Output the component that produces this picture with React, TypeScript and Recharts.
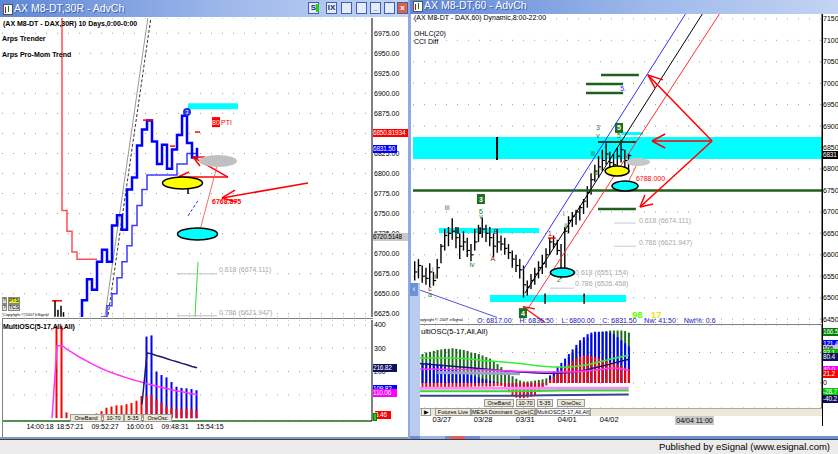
import {
  ComposedChart,
  Line,
  Bar,
  Scatter,
  XAxis,
  YAxis,
  CartesianGrid,
  ReferenceArea,
  ReferenceLine,
  ReferenceDot,
} from "recharts";

const FONT = "'Liberation Sans', Arial, sans-serif";

// ---------- left window: AX M8-DT, 30 range bars ----------
const leftPriceTicks = [6625, 6650, 6675, 6700, 6725, 6750, 6775, 6800, 6825, 6850, 6875, 6900, 6925, 6950, 6975];
const leftTimeTicks = [7.6, 13.6, 20.6, 27.6, 34.6, 41.6];
const leftTimeLabels = ["14:00:18", "18:57:21", "09:52:27", "16:00:01", "09:48:31", "15:54:15"];

// one value per range-bar slot (null = nothing drawn)
const arpsTrender = [
  null, null, null, null, null, null, null, null, null, null, null,
  7100, 6754, 6728, 6702, 6693, 6693, 6693, 6693, 6693,
];
const proMomFast = [
  null, null, null, null, null, null, null, null, null, null, null, null, null, null, null,
  6600, 6642, 6668, 6655, 6690, 6705, 6690, 6735, 6748, 6730, 6780, 6795, 6835, 6855, 6866,
  6840, 6812, 6836, 6806, 6830, 6848, 6872, 6838, 6820, 6832,
];
const proMomSlow = [
  null, null, null, null, null, null, null, null, null, null, null, null, null, null, null, null, null, null, null,
  6600, 6621, 6635, 6650, 6670, 6690, 6710, 6735, 6760, 6780, 6798,
  6798, 6798, 6798, 6798, 6798, 6812, 6812, 6825, 6825, 6825,
];
const leftOscMagenta = [
  null, null, null, null, null, null, null, null, null, null,
  0, 310, 312, 295, 282, 268, 256, 245, 233, 222, 212, 203, 195, 187, 180, 173, 166, 160, 154, 148,
  142, 137, 132, 127, 122, 117, 113, 109, 105, 102,
];
const leftOscNavy = [
  null, null, null, null, null, null, null, null, null, null, null, null, null, null, null, null, null, null, null, null,
  null, null, null, null, null, null, null, null, 60, 280, 275, 268, 262, 255, 248, 242, 235, 229, 222, 216,
];
const leftOscRed = [
  null, null, null, null, null, null, null, null, null, null, null, 395, 395, 25, null, null, null, null, null,
  20, 30, 45, 50, 55, 55, 60, 65, 75, 95, 95, 100, 80, 65, 50, 45, 40, 40, 40, 40, 35,
];
const leftOscBlue = [
  null, null, null, null, null, null, null, null, null, null, null, null, null, null, null, null, null, null, null,
  null, null, null, null, null, null, null, null, null, null, 350, 355, 200, 185, 175, 155, 135, 130, 128, 125, 120,
];

// ---------- right window: AX M8-DT, 60 min ----------
const rightPriceTicks = [6450, 6500, 6550, 6600, 6650, 6700, 6750, 6800, 6850, 6900, 6950, 7000, 7050, 7100, 7150];
const rightDateTicks = [7.2, 18.2, 29.4, 40.6, 51.8];
const rightDateLabels = ["03/27", "03/28", "03/31", "04/01", "04/02"];

const rHigh = [
  6585, 6590, 6575, 6570, 6580, 6560, 6590, 6625, 6660, 6665, 6685, 6665, 6650, 6655, 6640, 6625, 6660, 6670, 6687, 6670,
  6665, 6650, 6660, 6645, 6640, 6625, 6610, 6600, 6590, 6575, 6540, 6555, 6570, 6585, 6600, 6615, 6640, 6645, 6635, 6625,
  6665, 6690, 6700, 6705, 6715, 6730, 6760, 6790, 6810, 6830, 6845, 6860, 6840, 6835, 6850, 6868, 6845, 6836.5,
];
const rLow = [
  6540, 6545, 6535, 6530, 6525, 6528, 6545, 6580, 6610, 6620, 6635, 6615, 6590, 6610, 6595, 6585, 6610, 6630, 6640, 6630,
  6620, 6595, 6605, 6610, 6600, 6590, 6570, 6560, 6545, 6500, 6505, 6520, 6530, 6545, 6555, 6570, 6600, 6615, 6600, 6545,
  6550, 6650, 6665, 6670, 6680, 6695, 6710, 6740, 6770, 6780, 6795, 6810, 6795, 6790, 6800, 6815, 6800, 6800,
];
const rClose = [
  6560, 6575, 6550, 6545, 6560, 6540, 6570, 6620, 6645, 6650, 6655, 6640, 6620, 6630, 6610, 6600, 6630, 6650, 6660, 6650,
  6640, 6620, 6630, 6625, 6615, 6605, 6590, 6575, 6565, 6530, 6525, 6540, 6555, 6570, 6580, 6600, 6630, 6625, 6610, 6560,
  6655, 6680, 6690, 6700, 6710, 6725, 6745, 6775, 6795, 6805, 6820, 6835, 6815, 6810, 6830, 6845, 6820, 6831.5,
];
const rOscGreen = [
  85, 90, 95, 100, 102, 105, 108, 110, 112, 112, 114, 112, 110, 108, 105, 100, 98, 95, 90, 85, 80, 72, 62,
  52, 42, 32, 22, 14, 8, 5, 5, 6, 8, 10, 12, 15,
  20, 30, 40, 55, 70, 85, 100, 115, 130, 140, 150, 158, 162, 165, 168, 170, 172, 172, 172, 172, 170, 165,
];
const rOscBlue = [
  60, 62, 65, 66, 65, 62, 60, 56, 52, 48, 45, 42, 38, 34, 30, 26, 22, 18, 15, 12, 8, 5, 2,
  -5, -12, -20, -28, -34, -40, -42, -40, -36, -30, -22, -12, 0,
  25, 38, 52, 66, 80, 95, 110, 125, 140, 150, 160, 165, 168, 168, 168, 168, 165, 160, 150, 140, 130, 120,
];
const rOscRed = [
  -18, -18, -17, -17, -16, -16, -16, -15, -15, -15, -14, -14, -14, -13, -13, -13, -12, -12, -12, -12, -12, -11, -10,
  -10, -20, -30, -40, -48, -50, -50, -48, -45, -40, -30, -20, -8,
  12, 22, 32, 42, 52, 62, 72, 80, 86, 90, 90, 88, 85, 80, 76, 72, 68, 64, 60, 56, 50, 45,
];
// oscillator lines as [bar, value] points
const rOscLineGreen = [[0, 82], [10, 82], [20, 72], [28, 64], [34, 55], [40, 52], [46, 60], [52, 78], [57, 91]];
const rOscLineNavy = [[0, 65], [10, 55], [20, 44], [28, 36], [36, 32], [42, 35], [48, 50], [53, 65], [57, 78]];
const rOscLineMagenta = [[0, 46], [15, 44], [28, 38], [40, 36], [48, 42], [53, 49], [57, 42]];
const rOscLineLavender = [[6, 34], [16, 33], [28, 30]];
const rOscLinePink = [[0, -17], [57, -17]];
const rOscLineGreenLow = [[0, -27], [28, -27], [40, -25], [57, -25]];
const rOscLineNavyLow = [[0, -42], [28, -42], [35, -40], [57, -38]];

const leftRows = proMomFast.map((_, i) => ({
  i,
  trender: arpsTrender[i] ?? null,
  fast: proMomFast[i] ?? null,
  slow: proMomSlow[i] ?? null,
}));
const leftOscRows = leftOscRed.map((_, i) => ({
  i,
  red: leftOscRed[i] ?? null,
  blue: leftOscBlue[i] ?? null,
  magenta: leftOscMagenta[i] ?? null,
  navy: leftOscNavy[i] ?? null,
}));
const rightRows = rClose.map((c, i) => ({ i, range: [rLow[i], rHigh[i]], close: c }));
const rightOscRows = rOscGreen.map((g, i) => ({ i, g, b: rOscBlue[i], r: rOscRed[i] }));
const pts = (a: number[][]) => a.map(([i, v]) => ({ i, v }));

// ---------- annotation helpers (data coordinates) ----------
const seg = (k: string, a: number[], b: number[], stroke: string, w = 1, dash?: string) => (
  <ReferenceLine
    key={k}
    segment={[{ x: a[0], y: a[1] }, { x: b[0], y: b[1] }]}
    stroke={stroke}
    strokeWidth={w}
    strokeDasharray={dash}
    ifOverflow="hidden"
  />
);
const ell = (k: string, x: number, y: number, rx: number, ry: number, fill: string, stroke = "#000") => (
  <ReferenceDot
    key={k}
    x={x}
    y={y}
    r={rx}
    ifOverflow="visible"
    shape={(p: any) => (
      <ellipse cx={p.cx} cy={p.cy} rx={rx} ry={ry} fill={fill} stroke={stroke} strokeWidth={stroke === "none" ? 0 : 1.5} />
    )}
  />
);
const note = (
  k: string,
  x: number,
  y: number,
  text: string,
  fill: string,
  o: { size?: number; anchor?: string; bold?: boolean; box?: string; boxW?: number } = {}
) => (
  <ReferenceDot
    key={k}
    x={x}
    y={y}
    r={1}
    ifOverflow="visible"
    shape={(p: any) => (
      <g>
        {o.box && (
          <rect x={p.cx - (o.boxW ?? 8) / 2} y={p.cy - 5} width={o.boxW ?? 8} height={10} fill={o.box} />
        )}
        <text
          x={p.cx}
          y={p.cy}
          fill={fill}
          fontSize={o.size ?? 7}
          fontFamily={FONT}
          fontWeight={o.bold ? "bold" : "normal"}
          textAnchor={(o.anchor as any) ?? "middle"}
          dominantBaseline="central"
        >
          {text}
        </text>
      </g>
    )}
  />
);

const abs = (x: number, y: number, w: number, h: number, extra: any = {}) => ({
  position: "absolute" as const,
  left: x,
  top: y,
  width: w,
  height: h,
  ...extra,
});

function TitleBar({ x, y, w, title, buttons }: { x: number; y: number; w: number; title: string; buttons: number[] }) {
  const labels = ["S", "IX", "", "", "_", "", "x"];
  return (
    <div style={abs(x, y, w, 17, { background: "linear-gradient(to right, #5F87D6, #9DB8EA 55%, #C3D4F3)" })}>
      <div style={abs(3, 4, 8, 9, { background: "#fff", border: "1px solid #555" })}>
        <div style={abs(1, 2, 1, 6, { background: "#c00" })} />
        <div style={abs(4, 1, 1, 6, { background: "#080" })} />
      </div>
      <div style={abs(14, 2, 200, 13, { color: "#fff", fontSize: 10.5, fontFamily: FONT, lineHeight: "13px", textShadow: "1px 1px 0 #3b5ea8" })}>
        {title}
      </div>
      {buttons.map((bx, k) => (
        <div
          key={k}
          style={abs(bx, 2, 11, 12, {
            background: k === 6 ? "#D9634E" : "#E4ECFA",
            border: "1px solid #3E62B0",
            boxSizing: "border-box",
            color: k === 6 ? "#fff" : "#1b2c6b",
            fontSize: 8,
            fontWeight: "bold",
            fontFamily: FONT,
            textAlign: "center",
            lineHeight: "10px",
          })}
        >
          {labels[k]}
          {k === 0 && <div style={abs(7, 1, 3, 8, { background: "#22CC22" })} />}
        </div>
      ))}
    </div>
  );
}

function Tag({ x, y, w, text, bg, color = "#fff" }: { x: number; y: number; w: number; text: string; bg: string; color?: string }) {
  return (
    <div
      style={abs(x, y, w, 8, {
        background: bg,
        color,
        fontSize: 6.5,
        letterSpacing: -0.2,
        lineHeight: "8px",
        fontFamily: FONT,
        overflow: "hidden",
        whiteSpace: "nowrap",
      })}
    >
      {text}
    </div>
  );
}

function Btn({ x, y, w, h, text, bg = "#ECE9D8" }: { x: number; y: number; w: number; h: number; text: string; bg?: string }) {
  return (
    <div
      style={abs(x, y, w, h, {
        background: bg,
        border: "1px solid #9a9a9a",
        boxSizing: "border-box",
        fontSize: 5.5,
        lineHeight: `${h - 2}px`,
        textAlign: "center",
        fontFamily: FONT,
        color: "#000",
        whiteSpace: "nowrap",
        overflow: "hidden",
      })}
    >
      {text}
    </div>
  );
}

const tickStyle = { fontSize: 7, fill: "#000", fontFamily: FONT };

export default function App() {
  return (
    <div style={abs(0, 0, 838, 454, { overflow: "hidden", background: "#9FB6E2", fontFamily: FONT })}>
      {/* ================= LEFT WINDOW ================= */}
      <div style={abs(0, 17, 408, 421, { background: "#fff" })} />
      <TitleBar x={0} y={0} w={408} title="AX M8-DT,30R - AdvCh" buttons={[308, 326, 341, 356, 370, 384, 397]} />

      <div style={abs(2, 18, 406, 299)}>
        <ComposedChart width={406} height={299} data={leftRows} margin={{ top: 0, right: 0, bottom: 0, left: 0 }}>
          <CartesianGrid vertical={false} stroke="#9a9a9a" strokeDasharray="1 10" />
          <XAxis dataKey="i" type="number" domain={[0, 74]} hide allowDataOverflow />
          <YAxis
            orientation="right"
            width={36}
            domain={[6621, 6994]}
            ticks={leftPriceTicks}
            allowDataOverflow
            interval={0}
            tickFormatter={(v: number) => v.toFixed(2)}
            tick={tickStyle}
            tickLine={false}
            tickSize={0}
            tickMargin={2}
            axisLine={{ stroke: "#000" }}
          />
          <ReferenceArea x1={37.2} x2={47.2} y1={6880.3} y2={6887.8} fill="#00FFFF" fillOpacity={1} stroke="none" ifOverflow="visible" />
          {ell("lgray", 43.2, 6815.6, 19, 6, "#C0C0C0", "none")}
          {seg("ldash", [20.8, 6605], [30, 7004], "#333", 1, "3 2")}
          {seg("ldash2", [20.2, 6605], [29.4, 7004], "#999", 1)}
          <Line dataKey="trender" type="stepAfter" stroke="#FF5050" strokeWidth={1.5} dot={false} activeDot={false} isAnimationActive={false} />
          <Line dataKey="slow" type="stepAfter" stroke="#3B3BFF" strokeWidth={1.5} dot={false} activeDot={false} isAnimationActive={false} />
          <Line dataKey="fast" type="stepAfter" stroke="#0000FF" strokeWidth={2.5} dot={false} activeDot={false} isAnimationActive={false} />
          {seg("cap1", [28.2, 6866.6], [30.2, 6866.6], "#FF0000", 1.5)}
          {seg("cap2", [38.6, 6851.7], [39.6, 6851.7], "#FF0000", 1.5)}
          {seg("cap3", [33.6, 6834.2], [34.6, 6834.2], "#FF0000", 1.5)}
          {seg("cap4", [10, 6641.2], [12, 6641.2], "#FF0000", 1.5)}
          {seg("bb1", [10.6, 6641.2], [10.6, 6621.3], "#000", 1.5)}
          {seg("bb2", [11.2, 6630], [11.2, 6621.3], "#000", 1.5)}
          {seg("bb3", [11.8, 6635], [11.8, 6621.3], "#000", 1.5)}
          {seg("bb4", [12.3, 6627], [12.3, 6621.3], "#000", 1.5)}
          {ell("lyellow", 36.1, 6788.2, 20, 6, "#FFFF00")}
          {ell("lcyan", 39.1, 6724.6, 20, 6, "#00FFFF")}
          {seg("ltick", [37.2, 6780.7], [37.2, 6774.5], "#000", 1.5)}
          {seg("ra1", [38.2, 6820.5], [45.2, 6795.6], "#FF0000", 1.5)}
          {seg("ra2", [45.2, 6795.6], [35.2, 6795.6], "#FF0000", 1.5)}
          {seg("ra3", [35.2, 6795.6], [37.4, 6801.9], "#FF0000", 1.5)}
          {seg("ra4", [35.2, 6795.6], [38, 6786.9], "#FF0000", 1.5)}
          {seg("ra5", [38.2, 6820.5], [40.6, 6820.5], "#FF0000", 1.5)}
          {seg("ra6", [38.2, 6820.5], [39.6, 6809.3], "#FF0000", 1.5)}
          {seg("rb1", [61.2, 6788.2], [44, 6769.5], "#FF0000", 1.5)}
          {seg("rb2", [44, 6769.5], [46.6, 6779.4], "#FF0000", 1.5)}
          {seg("rb3", [44, 6769.5], [47, 6764.5], "#FF0000", 1.5)}
          {seg("rthin", [43.2, 6814.3], [39.2, 6719.7], "#FF4040", 0.8)}
          {seg("bluex", [37.2, 6747.1], [39.4, 6768.2], "#3030FF", 1, "3 2")}
          {seg("lgreen", [38.6, 6621.3], [39.2, 6689.8], "#33DD33", 1)}
          {seg("lg618", [35, 6674.8], [43, 6674.8], "#BDBDBD", 1)}
          {seg("lg786", [35, 6622.5], [43, 6622.5], "#BDBDBD", 1)}
          {note("n618", 43.4, 6679.8, "0.618 (6674.111)", "#A8A8A8", { anchor: "start" })}
          {note("n786", 43.4, 6626.2, "0.786 (6621.947)", "#A8A8A8", { anchor: "start" })}
          {note("n6768", 42, 6764.5, "6768.875", "#FF0000", { anchor: "start", bold: true })}
          {note("n80", 42.8, 6864.1, "80", "#fff", { box: "#FF0000", boxW: 8 })}
          {note("npti", 43.8, 6864.1, "PTI", "#FF0000", { anchor: "start" })}
          <ReferenceDot
            x={37}
            y={6876.6}
            r={4}
            ifOverflow="visible"
            shape={(p: any) => (
              <g>
                <circle cx={p.cx} cy={p.cy} r={4} fill="#2030E0" />
                <text x={p.cx} y={p.cy} fill="#fff" fontSize={6} textAnchor="middle" dominantBaseline="central" fontFamily={FONT}>
                  3
                </text>
              </g>
            )}
          />
        </ComposedChart>
      </div>
      <div style={abs(3, 19, 200, 9, { fontSize: 7, fontWeight: "bold", lineHeight: "9px" })}>(AX M8-DT - DAX,30R) 10 Days,0:00-0:00</div>
      <div style={abs(2, 34, 200, 9, { fontSize: 7, fontWeight: "bold", lineHeight: "9px" })}>Arps Trender</div>
      <div style={abs(2, 50, 200, 9, { fontSize: 7, fontWeight: "bold", lineHeight: "9px" })}>Arps Pro-Mom Trend</div>
      <Tag x={373} y={129} w={35} text="6850.81934" bg="#FF0000" />
      <Tag x={373} y={145} w={24} text="6831.50" bg="#0000FF" />
      <Tag x={373} y={233} w={35} text="6720.5148" bg="#C8C8C8" color="#000" />
      {/* bottom-left study buttons */}
      <div style={abs(2, 297, 5, 7, { background: "#ECE9D8", border: "1px solid #888", boxSizing: "border-box", fontSize: 5, lineHeight: "5px" })}>?</div>
      <div style={abs(8, 297, 12, 7, { background: "#E8E830", border: "1px solid #888", boxSizing: "border-box", fontSize: 5, lineHeight: "5px" })}>PTS</div>
      <div style={abs(2, 304, 5, 7, { background: "#ECE9D8", border: "1px solid #888", boxSizing: "border-box", fontSize: 5, lineHeight: "5px" })}>?</div>
      <div style={abs(8, 304, 12, 7, { background: "#D8D8D8", border: "1px solid #888", boxSizing: "border-box", fontSize: 5, lineHeight: "5px" })}>TCS</div>
      <div style={abs(3, 312, 60, 5, { fontSize: 4, lineHeight: "5px", color: "#000" })}>Copyright © 2007 eSignal</div>
      <div style={abs(2, 318, 371, 1, { background: "#808080" })} />

      {/* left oscillator pane */}
      <div style={abs(2, 320, 406, 113)}>
        <ComposedChart width={406} height={113} data={leftOscRows} margin={{ top: 0, right: 0, bottom: 0, left: 0 }} barGap={-2}>
          <CartesianGrid vertical={false} stroke="#9a9a9a" strokeDasharray="1 10" />
          <XAxis
            dataKey="i"
            type="number"
            domain={[0, 74]}
            ticks={leftTimeTicks}
            interval={0}
            tickFormatter={(v: number) => leftTimeLabels[leftTimeTicks.indexOf(v)] ?? ""}
            height={12}
            tick={tickStyle}
            tickLine={false}
            tickSize={1}
            tickMargin={2}
            axisLine={{ stroke: "#1E6B1E", strokeWidth: 1.5 }}
            allowDataOverflow
          />
          <YAxis
            orientation="right"
            width={36}
            domain={[-12, 421]}
            ticks={[100, 200, 300, 400]}
            allowDataOverflow
            interval={0}
            tick={tickStyle}
            tickLine={false}
            tickSize={0}
            tickMargin={2}
            axisLine={{ stroke: "#000" }}
          />
          <Bar dataKey="blue" fill="#0000FF" barSize={2} isAnimationActive={false} />
          <Bar dataKey="red" fill="#FF0000" barSize={2} isAnimationActive={false} />
          <Line dataKey="magenta" stroke="#FF33FF" strokeWidth={1.5} dot={false} activeDot={false} isAnimationActive={false} />
          <Line dataKey="navy" stroke="#1A1A6E" strokeWidth={1.5} dot={false} activeDot={false} isAnimationActive={false} />
        </ComposedChart>
      </div>
      <div style={abs(3, 322, 200, 9, { fontSize: 7, fontWeight: "bold", lineHeight: "9px" })}>MultiOSC(5-17,All,All)</div>
      <Btn x={70} y={414} w={32} h={8} text="OneBand" />
      <Btn x={103} y={414} w={21} h={8} text="10-70" />
      <Btn x={124} y={414} w={18} h={8} text="5-35" />
      <Btn x={143} y={414} w={29} h={8} text="OneOsc" />
      <Tag x={373} y={364} w={24} text="216.82" bg="#101060" />
      <Tag x={373} y={385} w={24} text="109.82" bg="#0000FF" />
      <Tag x={373} y={389} w={24} text="110.06" bg="#FF00FF" />
      <Tag x={375} y={411} w={16} text="5.46" bg="#FF0000" />
      <div style={abs(373, 413, 4, 8, { background: "#22CC22", border: "1px solid #080", boxSizing: "border-box" })} />
      <div style={abs(2, 318, 1, 120, { background: "#808080" })} />
      <div style={abs(0, 437, 409, 2, { background: "#7F9DB9" })} />

      {/* ================= RIGHT WINDOW ================= */}
      <div style={abs(410, 0, 428, 440, { background: "#fff" })} />
      <div style={abs(413, 12, 409, 312)}>
        <ComposedChart width={439} height={311} data={rightRows} margin={{ top: 0, right: 0, bottom: 0, left: 0 }}>
          <CartesianGrid vertical={false} stroke="#9a9a9a" strokeDasharray="1 10" />
          <XAxis dataKey="i" type="number" domain={[-0.5, 108.5]} hide allowDataOverflow />
          <YAxis
            orientation="right"
            width={30}
            domain={[6441, 7166]}
            ticks={rightPriceTicks}
            allowDataOverflow
            interval={0}
            tick={tickStyle}
            tickLine={false}
            tickSize={0}
            tickMargin={1}
            axisLine={{ stroke: "#000" }}
          />
          <ReferenceArea y1={6823.3} y2={6874.7} fill="#00FFFF" fillOpacity={1} stroke="none" />
          <ReferenceArea x1={6.4} x2={33.1} y1={6650.7} y2={6662.3} fill="#00FFFF" fillOpacity={1} stroke="none" />
          <ReferenceArea x1={20} x2={56.3} y1={6489.7} y2={6506} fill="#00FFFF" fillOpacity={1} stroke="none" />
          <ReferenceArea x1={55} x2={60.8} y1={6879.3} y2={6886.3} fill="#00FFFF" fillOpacity={1} stroke="none" />
          {seg("vblk", [21.9, 6874.7], [21.9, 6821], "#000", 2)}
          {seg("cb1", [11.5, 6664], [11.5, 6649], "#000", 1.5)}
          {seg("cb2", [17.4, 6664], [17.4, 6649], "#000", 1.5)}
          {seg("cb3", [34.7, 6510], [34.7, 6486], "#000", 1.5)}
          {seg("cb4", [45.1, 6510], [45.1, 6486], "#000", 1.5)}
          <ReferenceLine y={6750} stroke="#1F5F1F" strokeWidth={2.5} />
          {seg("g1", [49.6, 7019.3], [59.7, 7019.3], "#1F5F1F", 2.5)}
          {seg("g2", [45.6, 6998.3], [55.5, 6998.3], "#1F5F1F", 2.5)}
          {seg("g3", [45.6, 6977.3], [55.5, 6977.3], "#1F5F1F", 2.5)}
          {seg("g4", [48.8, 6706.7], [58.9, 6706.7], "#1F5F1F", 2.5)}
          {seg("bk1", [48.8, 6863], [58.9, 6863], "#1F3F1F", 2)}
          {seg("gy1", [53.1, 6674], [58.9, 6674], "#C8C8C8", 1)}
          {seg("gy2", [53.1, 6620], [58.9, 6620], "#C8C8C8", 1)}
          {seg("gy3", [36, 6522.3], [42.4, 6522.3], "#C8C8C8", 1)}
          {seg("bluediag", [1.4, 6517.7], [21.9, 6454], "#5050E0", 1)}
          {seg("chBlue", [28.8, 6564.3], [74.5, 7194.3], "#3030FF", 1)}
          {seg("chBlack", [29.35, 6510.7], [79, 7194.3], "#000", 1)}
          {seg("chRed", [29.35, 6464], [83.6, 7194.3], "#FF3030", 1)}
          {ell("rgray", 59.5, 6816.3, 12, 4, "#C8C8C8", "none")}
          <Bar dataKey="range" fill="#000" barSize={1.4} isAnimationActive={false} />
          <Scatter
            dataKey="close"
            isAnimationActive={false}
            shape={(p: any) => <line x1={p.cx} x2={p.cx + 2.5} y1={p.cy} y2={p.cy} stroke="#000" strokeWidth={1.2} />}
          />
          {ell("ryellow", 53.9, 6795.3, 12, 5, "#FFFF00")}
          {ell("rcyan", 56, 6760.3, 13, 5, "#00FFFF")}
          {ell("rcyan2", 39.3, 6558.5, 12, 4.5, "#00FFFF")}
          {seg("thinr", [59.5, 6816], [56, 6755], "#FF3030", 0.8)}
          {seg("ra1", [79.2, 6865.3], [63.2, 6865.3], "#FF0000", 1.5)}
          {seg("ra1h1", [63.2, 6865.3], [66.7, 6881.6], "#FF0000", 1.5)}
          {seg("ra1h2", [63.2, 6865.3], [66.7, 6849], "#FF0000", 1.5)}
          {seg("ra2", [79.2, 6865.3], [62.1, 7019.3], "#FF0000", 1.5)}
          {seg("ra2h1", [62.1, 7019.3], [66.1, 7007.7], "#FF0000", 1.5)}
          {seg("ra2h2", [62.1, 7019.3], [64, 6989], "#FF0000", 1.5)}
          {seg("ra3", [79.2, 6865.3], [60, 6711.3], "#FF0000", 1.5)}
          {seg("ra3h1", [60, 6711.3], [61.3, 6739.3], "#FF0000", 1.5)}
          {seg("ra3h2", [60, 6711.3], [63.5, 6718.3], "#FF0000", 1.5)}
          {seg("ra4", [28.8, 6479], [34.6, 6443], "#FF0000", 1.2)}
          {seg("ra5", [28.8, 6479], [32, 6474], "#FF0000", 1.2)}
          {seg("cap1", [35.5, 6639], [37.5, 6639], "#FF0000", 1.5)}
          {note("n6788", 58.9, 6779, "6788.000", "#FF0000", { anchor: "start" })}
          {note("r618", 59.7, 6681, "0.618 (6674.111)", "#A8A8A8", { anchor: "start" })}
          {note("r786", 59.7, 6629.7, "0.786 (6621.947)", "#A8A8A8", { anchor: "start" })}
          {note("r618b", 42.7, 6559.7, "0.618 (6551.154)", "#A8A8A8", { anchor: "start" })}
          {note("r786b", 42.7, 6534, "0.786 (6526.458)", "#A8A8A8", { anchor: "start" })}
          {note("w3box", 17.6, 6730, "3", "#fff", { box: "#1E6E1E", boxW: 8, bold: true })}
          {note("w5", 17.6, 6702, "5", "#1E7E1E")}
          {note("wv", 17.6, 6690, "v", "#1E7E1E")}
          {note("wiii", 8.6, 6711.3, "iii", "#1E7E1E")}
          {note("wiv", 15.2, 6578.3, "iv", "#1E7E1E")}
          {note("wi", 4.8, 6566.7, "i", "#1E7E1E")}
          {note("wii", 5.6, 6550, "ii", "#1E7E1E")}
          {note("wc", 4, 6522.3, "c", "#8B1A1A")}
          {note("wa", 4, 6508, "a", "#1E7E1E")}
          {note("wA", 20.8, 6592.3, "A", "#8B1A1A")}
          {note("wB", 21.6, 6655.3, "B", "#6B1A1A")}
          {note("w1", 36, 6650.7, "1", "#CC0000")}
          {note("w2", 38.4, 6543.3, "2", "#1E7E1E")}
          {note("w4box", 28.8, 6464, "4", "#fff", { box: "#1E6E1E", boxW: 8, bold: true })}
          {note("wi2", 39.7, 6697.3, "i", "#1E7E1E")}
          {note("wii2", 40.2, 6669.3, "ii", "#1E7E1E")}
          {note("wiii2", 47.4, 6835, "iii", "#1E7E1E")}
          {note("wiv2", 48.2, 6793, "iv", "#1E7E1E")}
          {note("w3b", 48.8, 6895.7, "3", "#1E7E1E")}
          {note("wvb", 48.8, 6877, "v", "#1E7E1E")}
          {note("w5box", 54.4, 6895.7, "5", "#fff", { box: "#1E6E1E", boxW: 8, bold: true })}
          {note("w5s", 54.4, 6879, "5", "#1E7E1E")}
          {note("w5blue", 55.5, 6986.7, "5.", "#3030FF")}
        </ComposedChart>
      </div>
      <div style={abs(414, 13, 220, 9, { fontSize: 7, lineHeight: "9px" })}>(AX M8-DT - DAX,60) Dynamic,8:00-22:00</div>
      <div style={abs(414, 29, 100, 9, { fontSize: 7, lineHeight: "9px" })}>OHLC(20)</div>
      <div style={abs(414, 37, 100, 9, { fontSize: 7, lineHeight: "9px" })}>CCI Diff</div>
      <Tag x={823} y={151} w={16} text="6831" bg="#000" />
      <div style={abs(632, 309, 14, 11, { fontSize: 9.5, fontWeight: "bold", color: "#66FF00", lineHeight: "11px" })}>98</div>
      <div style={abs(651, 309, 14, 11, { fontSize: 9.5, fontWeight: "bold", color: "#E8E800", lineHeight: "11px" })}>17</div>
      <div style={abs(420, 317, 60, 6, { fontSize: 4, lineHeight: "6px" })}>opyright © 2007 eSignal</div>
      <div style={abs(477, 316, 240, 9, { fontSize: 7, lineHeight: "9px", color: "#2020C0", whiteSpace: "pre" })}>
        {"O: 6817.00    H: 6836.50    L: 6800.00    C: 6831.50    Nw: 41.50    Nwt%: 0.6"}
      </div>
      <div style={abs(413, 324, 409, 1, { background: "#808080" })} />

      {/* right oscillator pane */}
      <div style={abs(413, 325, 409, 100)}>
        <ComposedChart width={439} height={100} data={rightOscRows} margin={{ top: 0, right: 0, bottom: 0, left: 0 }} barGap={-2}>
          <CartesianGrid vertical={false} stroke="#9a9a9a" strokeDasharray="1 10" />
          <XAxis
            dataKey="i"
            type="number"
            domain={[-0.5, 108.5]}
            ticks={rightDateTicks}
            interval={0}
            tickFormatter={(v: number) => rightDateLabels[rightDateTicks.indexOf(v)] ?? ""}
            height={17}
            tick={{ fontSize: 7.5, fill: "#000", fontFamily: FONT }}
            tickLine={false}
            axisLine={false}
            tickSize={1}
            tickMargin={8}
            allowDataOverflow
          />
          <YAxis
            orientation="right"
            width={30}
            domain={[-82, 190]}
            ticks={[0, 100]}
            tickFormatter={(v: number) => (v === 0 ? "0" : "")}
            allowDataOverflow
            interval={0}
            tick={tickStyle}
            tickLine={false}
            tickSize={0}
            tickMargin={1}
            axisLine={{ stroke: "#000" }}
          />
          <Bar dataKey="g" fill="#1E6B1E" barSize={2} isAnimationActive={false} />
          <Bar dataKey="b" fill="#0000FF" barSize={2} isAnimationActive={false} />
          <Bar dataKey="r" fill="#FF0000" barSize={2} isAnimationActive={false} />
          <Line data={pts(rOscLineLavender)} dataKey="v" stroke="#A0A0CC" strokeWidth={3} dot={false} activeDot={false} isAnimationActive={false} />
          <Line data={pts(rOscLineGreen)} dataKey="v" type="monotone" stroke="#33EE33" strokeWidth={1.5} dot={false} activeDot={false} isAnimationActive={false} />
          <Line data={pts(rOscLineNavy)} dataKey="v" type="monotone" stroke="#15156E" strokeWidth={1.5} dot={false} activeDot={false} isAnimationActive={false} />
          <Line data={pts(rOscLineMagenta)} dataKey="v" type="monotone" stroke="#FF33FF" strokeWidth={1.5} dot={false} activeDot={false} isAnimationActive={false} />
          <Line data={pts(rOscLinePink)} dataKey="v" stroke="#FF88FF" strokeWidth={3} dot={false} activeDot={false} isAnimationActive={false} />
          <Line data={pts(rOscLineGreenLow)} dataKey="v" stroke="#33DD33" strokeWidth={2} dot={false} activeDot={false} isAnimationActive={false} />
          <Line data={pts(rOscLineNavyLow)} dataKey="v" stroke="#404090" strokeWidth={2} dot={false} activeDot={false} isAnimationActive={false} />
        </ComposedChart>
      </div>
      <div style={abs(421, 327, 120, 9, { fontSize: 7.5, lineHeight: "9px" })}>ultiOSC(5-17,All,All)</div>
      <Btn x={484} y={399} w={30} h={8} text="OneBand" />
      <Btn x={516} y={399} w={19} h={8} text="10-70" />
      <Btn x={537} y={399} w={16} h={8} text="5-35" />
      <Btn x={557} y={399} w={28} h={8} text="OneOsc" />
      <div style={abs(420, 408, 402, 8, { background: "#ECE9D8", borderTop: "1px solid #aaa", boxSizing: "border-box" })} />
      <Btn x={421} y={408} w={10} h={8} text="▶" bg="#F4F2EA" />
      <Btn x={435} y={408} w={36} h={8} text="Futures Live" />
      <Btn x={471} y={408} w={65} h={8} text="MESA Dominant Cycle(C)" />
      <Btn x={536} y={408} w={55} h={8} text="MultiOSC(5-17,All,All)" bg="#fff" />
      <div style={abs(675, 416, 39, 9, { background: "#C8C8C8", fontSize: 7, lineHeight: "9px", textAlign: "center" })}>04/04 11:00</div>
      <Tag x={823} y={328} w={16} text="166.5" bg="#008000" />
      <Tag x={823} y={340} w={16} text="121.4" bg="#0000FF" />
      <Tag x={823} y={345} w={16} text="106." bg="#C8C8C8" color="#000" />
      <Tag x={823} y={349} w={16} text="93.1" bg="#00BB00" />
      <Tag x={823} y={353} w={16} text="80.4" bg="#101060" />
      <Tag x={823} y={366} w={16} text="40.0" bg="#FF00FF" />
      <Tag x={823} y={370} w={16} text="21.2" bg="#FF0000" />
      <Tag x={823} y={388} w={16} text="-28.7" bg="#00CC00" />
      <Tag x={823} y={395} w={16} text="-40.2" bg="#101060" />
      <div style={abs(822, 12, 1, 414, { background: "#000" })} />

      {/* right window frame, scroll strip, bottom */}
      <div style={abs(408, 0, 3, 440, { background: "#8FAAE0" })} />
      <div style={abs(410, 283, 10, 155, { background: "#B9CCF0" })} />
      <div style={abs(410, 283, 8, 13, { background: "#6F8FD8", color: "#fff", fontSize: 9, lineHeight: "13px", textAlign: "center" })}>‹</div>
      <TitleBar x={410} y={-3} w={428} title="AX M8-DT,60 - AdvCh" buttons={[748, 766, 781, 796, 810, 824]} />
      <div style={abs(410, 436, 428, 4, { background: "#6D8FD6" })} />
      <div style={abs(420, 436, 25, 3, { background: "#9DB6E8" })} />
      <div style={abs(450, 436, 15, 3, { background: "#E06060" })} />
      <div style={abs(480, 436, 40, 3, { background: "#9DB6E8" })} />
      <div style={abs(0, 439, 838, 15, { background: "#ECECEC", borderTop: "1px solid #404040", boxSizing: "border-box" })} />
      <div style={abs(600, 441, 230, 12, { fontSize: 9.5, lineHeight: "12px", textAlign: "right", color: "#000" })}>
        Published by eSignal (www.esignal.com)
      </div>
    </div>
  );
}
